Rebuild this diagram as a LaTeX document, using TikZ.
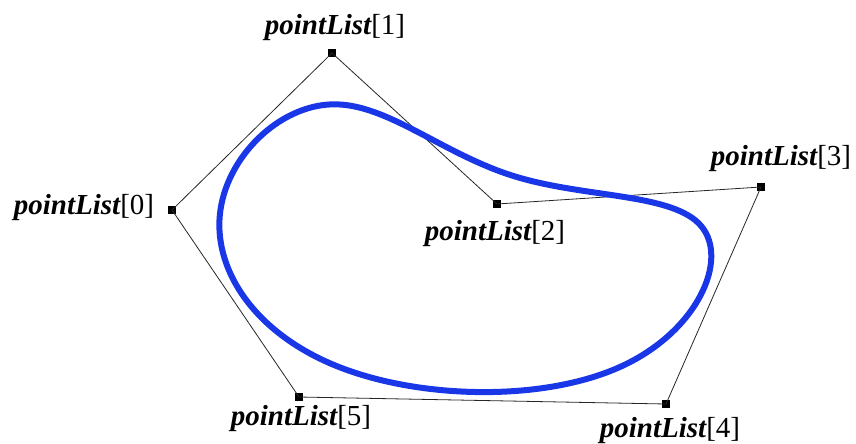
\documentclass[tikz,border=0pt]{standalone}
\usepackage{fontspec}
\setmainfont{Liberation Serif}
\usetikzlibrary{calc}
\definecolor{splineblue}{RGB}{25,55,230}

\begin{document}
\begin{tikzpicture}[x=1pt,y=-1pt,
  ctrl/.style={rectangle,fill=black,minimum size=8pt,inner sep=0pt},
  poly/.style={black!85,line width=0.8pt},
  spline/.style={splineblue,line width=6pt,line join=round},
  lbl/.style={anchor=base,inner sep=0pt,font=\fontsize{29}{32}\selectfont}
]
\useasboundingbox (0,0) rectangle (856,444);
% control points
\node[ctrl] (p0) at (172,210) {};
\node[ctrl] (p1) at (332,53)  {};
\node[ctrl] (p2) at (497,204) {};
\node[ctrl] (p3) at (761,187) {};
\node[ctrl] (p4) at (666,404) {};
\node[ctrl] (p5) at (299,397) {};

% control polygon
\draw[poly] (p0.center) -- (p1.center) -- (p2.center) -- (p3.center)
  -- (p4.center) -- (p5.center) -- cycle;

% closed uniform cubic B-spline
\foreach \a/\b/\c in {5/0/1,0/1/2,1/2/3,2/3/4,3/4/5,4/5/0}
  \coordinate (s\b) at ($1/6*(p\a)+2/3*(p\b)+1/6*(p\c)$);
\draw[spline] (s0)
  \foreach \i/\j in {0/1,1/2,2/3,3/4,4/5,5/0} {
    .. controls ($(p\i)!1/3!(p\j)$) and ($(p\i)!2/3!(p\j)$) .. (s\j)
  } -- cycle;

% labels
\node[lbl] (l0) at (84,214)  {{\bfseries\itshape pointList}[0]};
\node[lbl] (l1) at (335,35)  {{\bfseries\itshape pointList}[1]};
\node[lbl] (l2) at (495,240) {{\bfseries\itshape pointList}[2]};
\node[lbl] (l3) at (781,165) {{\bfseries\itshape pointList}[3]};
\node[lbl] (l4) at (670,437) {{\bfseries\itshape pointList}[4]};
\node[lbl] (l5) at (301,425) {{\bfseries\itshape pointList}[5]};
\end{tikzpicture}
\end{document}
